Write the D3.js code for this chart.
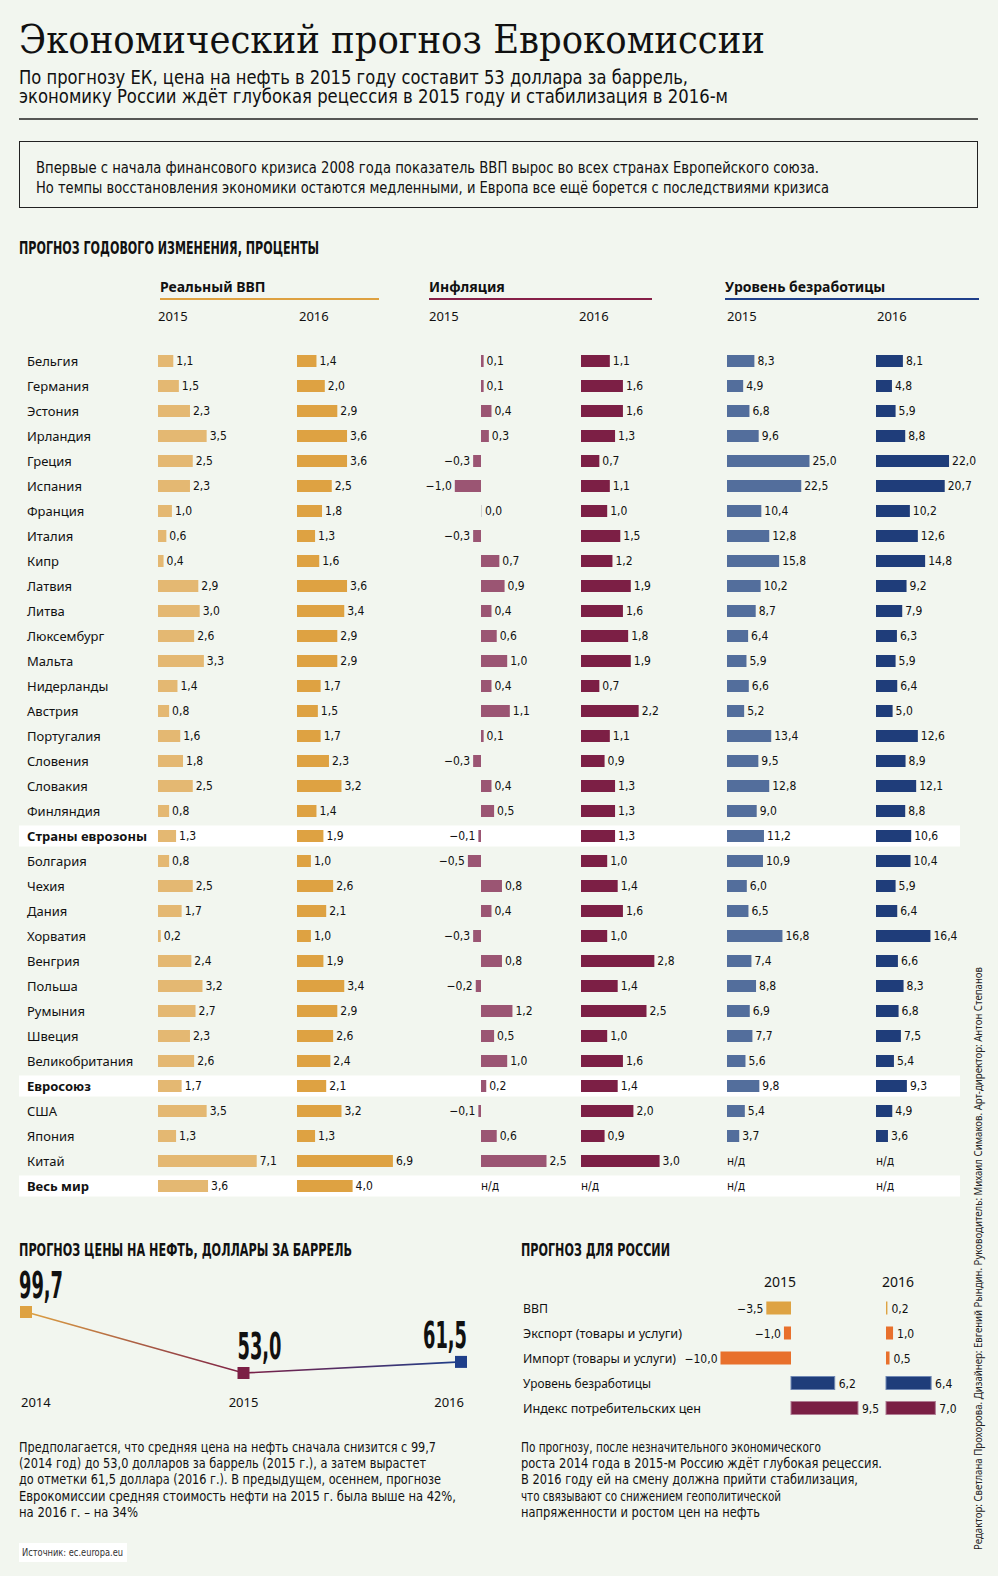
<!DOCTYPE html>
<html><head><meta charset="utf-8">
<script src="https://cdn.jsdelivr.net/npm/d3@7"></script>
<style>html,body{margin:0;padding:0;background:#f2f6ef;} svg{display:block}</style>
</head><body>
<svg id="c" width="998" height="1576"></svg>
<script>
// ---------------- DATA ----------------
const countries = ["Бельгия","Германия","Эстония","Ирландия","Греция","Испания","Франция","Италия","Кипр","Латвия","Литва","Люксембург","Мальта","Нидерланды","Австрия","Португалия","Словения","Словакия","Финляндия","Страны еврозоны","Болгария","Чехия","Дания","Хорватия","Венгрия","Польша","Румыния","Швеция","Великобритания","Евросоюз","США","Япония","Китай","Весь мир"];
const highlighted = ["Страны еврозоны","Евросоюз","Весь мир"];
const gdp2015 = [1.1,1.5,2.3,3.5,2.5,2.3,1.0,0.6,0.4,2.9,3.0,2.6,3.3,1.4,0.8,1.6,1.8,2.5,0.8,1.3,0.8,2.5,1.7,0.2,2.4,3.2,2.7,2.3,2.6,1.7,3.5,1.3,7.1,3.6];
const gdp2016 = [1.4,2.0,2.9,3.6,3.6,2.5,1.8,1.3,1.6,3.6,3.4,2.9,2.9,1.7,1.5,1.7,2.3,3.2,1.4,1.9,1.0,2.6,2.1,1.0,1.9,3.4,2.9,2.6,2.4,2.1,3.2,1.3,6.9,4.0];
const infl2015 = [0.1,0.1,0.4,0.3,-0.3,-1.0,0.0,-0.3,0.7,0.9,0.4,0.6,1.0,0.4,1.1,0.1,-0.3,0.4,0.5,-0.1,-0.5,0.8,0.4,-0.3,0.8,-0.2,1.2,0.5,1.0,0.2,-0.1,0.6,2.5,null];
const infl2016 = [1.1,1.6,1.6,1.3,0.7,1.1,1.0,1.5,1.2,1.9,1.6,1.8,1.9,0.7,2.2,1.1,0.9,1.3,1.3,1.3,1.0,1.4,1.6,1.0,2.8,1.4,2.5,1.0,1.6,1.4,2.0,0.9,3.0,null];
const unemp2015 = [8.3,4.9,6.8,9.6,25.0,22.5,10.4,12.8,15.8,10.2,8.7,6.4,5.9,6.6,5.2,13.4,9.5,12.8,9.0,11.2,10.9,6.0,6.5,16.8,7.4,8.8,6.9,7.7,5.6,9.8,5.4,3.7,null,null];
const unemp2016 = [8.1,4.8,5.9,8.8,22.0,20.7,10.2,12.6,14.8,9.2,7.9,6.3,5.9,6.4,5.0,12.6,8.9,12.1,8.8,10.6,10.4,5.9,6.4,16.4,6.6,8.3,6.8,7.5,5.4,9.3,4.9,3.6,null,null];
const groupTitles = ["Реальный ВВП","Инфляция","Уровень безработицы"];
const yearLabels = ["2015","2016"];

const oilYears = ["2014","2015","2016"];
const oilPrices = [99.7,53.0,61.5];

const russiaIndicators = ["ВВП","Экспорт (товары и услуги)","Импорт (товары и услуги)","Уровень безработицы","Индекс потребительских цен"];
const russia2015 = [-3.5,-1.0,-10.0,6.2,9.5];
const russia2016 = [0.2,1.0,0.5,6.4,7.0];

// ---------------- SETUP ----------------
const W = 998, H = 1576;
const BG = "#f2f6ef";
const SANS = "'Noto Sans','Open Sans',sans-serif";
const NARROW = "'Liberation Sans Narrow','DejaVu Sans Condensed','Roboto',sans-serif";
const SERIF = "'DejaVu Serif','Liberation Serif',serif";
const svg = d3.select("#c");
svg.append("rect").attr("width",W).attr("height",H).attr("fill",BG);

function fmt(v){ return (v<0?"\u2212":"") + Math.abs(v).toFixed(1).replace(".",","); }
function fit(sel, w){
  const n = sel.node(); const L = n.getComputedTextLength();
  if (w && Math.abs(L-w)/w > 0.015) sel.attr("textLength", w).attr("lengthAdjust","spacingAndGlyphs");
  return sel;
}
function txt(x,y,s,o){
  o = o||{};
  const t = svg.append("text").attr("x",x).attr("y",y).text(s)
    .attr("font-family",o.family||SANS).attr("font-size",o.size||13)
    .attr("font-weight",o.weight||"normal").attr("fill",o.fill||"#111")
    .attr("text-anchor",o.anchor||"start");
  if (o.width) fit(t,o.width);
  return t;
}

// ---------------- HEADER ----------------
txt(19,53,"Экономический прогноз Еврокомиссии",{family:SERIF,size:39,width:746,fill:"#111"});
txt(19,84,"По прогнозу ЕК, цена на нефть в 2015 году составит 53 доллара за баррель,",{family:NARROW,size:19,width:669});
txt(19,103,"экономику России ждёт глубокая рецессия в 2015 году и стабилизация в 2016-м",{family:NARROW,size:19,width:709});
svg.append("line").attr("x1",19).attr("x2",978).attr("y1",119).attr("y2",119).attr("stroke","#222").attr("stroke-width",1.3);

svg.append("rect").attr("x",19.5).attr("y",141.5).attr("width",958).attr("height",66)
  .attr("fill","none").attr("stroke","#222").attr("stroke-width",1);
txt(36,173,"Впервые с начала финансового кризиса 2008 года показатель ВВП вырос во всех странах Европейского союза.",{family:NARROW,size:15,width:783});
txt(36,193,"Но темпы восстановления экономики остаются медленными, и Европа все ещё борется с последствиями кризиса",{family:NARROW,size:15,width:793});

txt(19,254,"ПРОГНОЗ ГОДОВОГО ИЗМЕНЕНИЯ, ПРОЦЕНТЫ",{family:NARROW,size:17,weight:"bold",width:300});

// ---------------- TABLE ----------------
const y = d3.scalePoint().domain(countries).range([361, 361 + 25*(countries.length-1)]);

// highlight bands
svg.append("g").selectAll("rect").data(highlighted).join("rect")
  .attr("x",19).attr("width",941).attr("y",d=>y(d)-10.5).attr("height",21).attr("fill","#ffffff");

const groups = [
  {title:groupTitles[0], tx:160, lx1:160, lx2:379, lineColor:"#dea140"},
  {title:groupTitles[1], tx:429, lx1:429, lx2:652, lineColor:"#861f47"},
  {title:groupTitles[2], tx:725, lx1:725, lx2:979, lineColor:"#1f3f8a"}
];
groups.forEach(g=>{
  txt(g.tx,292,g.title,{size:14,weight:"bold"});
  svg.append("line").attr("x1",g.lx1).attr("x2",g.lx2).attr("y1",299).attr("y2",299)
    .attr("stroke",g.lineColor).attr("stroke-width",2);
});

const columns = [
  {values:gdp2015,  zero:158, k:13.9, color:"#e4b872", year:yearLabels[0], yx:158},
  {values:gdp2016,  zero:297, k:13.9, color:"#dea242", year:yearLabels[1], yx:299},
  {values:infl2015, zero:481, k:26.2, color:"#9b5573", year:yearLabels[0], yx:429},
  {values:infl2016, zero:581, k:26.2, color:"#7c1f45", year:yearLabels[1], yx:579},
  {values:unemp2015,zero:727, k:3.3,  color:"#536e9c", year:yearLabels[0], yx:727},
  {values:unemp2016,zero:876, k:3.32, color:"#1f3d7a", year:yearLabels[1], yx:877}
];

columns.forEach(col=>{
  txt(col.yx,321,col.year,{size:13});
  const x = d3.scaleLinear().domain([0,1]).range([col.zero, col.zero+col.k]);
  const data = countries.map((c,i)=>({c, v:col.values[i]}));
  const g = svg.append("g");
  const valid = data.filter(d=>d.v!==null);
  g.selectAll("rect").data(valid).join("rect")
    .attr("x",d=>Math.min(x(0),x(d.v)))
    .attr("width",d=>Math.max(Math.abs(x(d.v)-x(0)), 1))
    .attr("y",d=>y(d.c)-6).attr("height",12)
    .attr("fill",d=>d.v===0?"#cfcfcf":col.color);
  g.selectAll("text").data(data).join("text")
    .attr("x",d=> d.v===null ? x(0) : (d.v<0 ? x(d.v)-3 : Math.max(x(d.v),x(0)+1)+3))
    .attr("y",d=>y(d.c)+4)
    .attr("text-anchor",d=> d.v!==null && d.v<0 ? "end":"start")
    .attr("font-family",NARROW).attr("font-size",12).attr("fill","#111")
    .text(d=> d.v===null ? "н/д" : fmt(d.v));
});

// row labels
svg.append("g").selectAll("text").data(countries).join("text")
  .attr("x",27).attr("y",d=>y(d)+4.5)
  .attr("font-family",SANS).attr("font-size",13)
  .attr("font-weight",d=>highlighted.includes(d)?"bold":"normal")
  .attr("fill","#111").text(d=>d);

// ---------------- OIL CHART ----------------
txt(19,1256,"ПРОГНОЗ ЦЕНЫ НА НЕФТЬ, ДОЛЛАРЫ ЗА БАРРЕЛЬ",{family:NARROW,size:17,weight:"bold",width:333});
const ox = d3.scalePoint().domain(oilYears).range([26,461]);
const oy = d3.scaleLinear().domain([53,99.7]).range([1373,1312]);
const oilColors = ["#dea242","#7c1f45","#1f3f8a"];
const defs = svg.append("defs");
const grad = defs.append("linearGradient").attr("id","oilgrad").attr("gradientUnits","userSpaceOnUse")
  .attr("x1",ox(oilYears[0])).attr("x2",ox(oilYears[2])).attr("y1",0).attr("y2",0);
grad.append("stop").attr("offset",0).attr("stop-color",oilColors[0]);
grad.append("stop").attr("offset",(ox(oilYears[1])-ox(oilYears[0]))/(ox(oilYears[2])-ox(oilYears[0]))).attr("stop-color",oilColors[1]);
grad.append("stop").attr("offset",1).attr("stop-color",oilColors[2]);
const oilData = oilYears.map((yr,i)=>({yr, v:oilPrices[i]}));
svg.append("path").datum(oilData)
  .attr("d", d3.line().x(d=>ox(d.yr)).y(d=>oy(d.v)))
  .attr("fill","none").attr("stroke","url(#oilgrad)").attr("stroke-width",1.6);
svg.append("g").selectAll("rect").data(oilData).join("rect")
  .attr("x",d=>ox(d.yr)-6).attr("y",d=>oy(d.v)-6).attr("width",12).attr("height",12)
  .attr("fill",(d,i)=>oilColors[i]);
const anchors = ["start","start","end"];
const offs = [-7,-6,6];
oilData.forEach((d,i)=>{
  txt(ox(d.yr)+offs[i], oy(d.v)-14, fmt(d.v), {family:NARROW,size:37,weight:"bold",anchor:anchors[i],width:44});
});
const yrAnch = ["start","middle","end"];
const yrOff = [-5,0,3];
oilData.forEach((d,i)=>{
  txt(ox(d.yr)+yrOff[i], 1407, d.yr, {size:13,anchor:yrAnch[i]});
});

// ---------------- RUSSIA ----------------
txt(521,1256,"ПРОГНОЗ ДЛЯ РОССИИ",{family:NARROW,size:17,weight:"bold",width:149});
const ry = d3.scalePoint().domain(russiaIndicators).range([1308,1408]);
const rx15 = d3.scaleLinear().domain([0,1]).range([791,798.05]);
const rx16 = d3.scaleLinear().domain([0,1]).range([886,893.05]);
const rColors = ["#dea343","#e8702c","#e8702c","#1f3d7a","#7a1f44"];
const rStroke = [null,null,null,"#7088b4","#b07d93"];
txt(780,1287,yearLabels[0],{size:14,anchor:"middle"});
txt(898,1287,yearLabels[1],{size:14,anchor:"middle"});
const rLabelW = [25,159,153,128,178];
svg.append("g").selectAll("text").data(russiaIndicators).join("text")
  .attr("x",523).attr("y",d=>ry(d)+5).attr("font-family",SANS).attr("font-size",13)
  .attr("fill","#111").text(d=>d)
  .each(function(d,i){ fit(d3.select(this), rLabelW[i]); });
[[russia2015,rx15],[russia2016,rx16]].forEach(([vals,x])=>{
  const data = russiaIndicators.map((c,i)=>({c,v:vals[i],i}));
  const g = svg.append("g");
  g.selectAll("rect").data(data).join("rect")
    .attr("x",d=>Math.min(x(0),x(d.v))).attr("width",d=>Math.abs(x(d.v)-x(0)))
    .attr("y",d=>ry(d.c)-6.5).attr("height",13)
    .attr("fill",d=>rColors[d.i])
    .attr("stroke",d=>rStroke[d.i]||"none").attr("stroke-width",1);
  g.selectAll("text").data(data).join("text")
    .attr("x",d=> d.v<0 ? x(d.v)-3 : x(d.v)+4)
    .attr("y",d=>ry(d.c)+4.5)
    .attr("text-anchor",d=>d.v<0?"end":"start")
    .attr("font-family",NARROW).attr("font-size",12).attr("fill","#111")
    .text(d=>fmt(d.v));
});

// ---------------- PARAGRAPHS ----------------
const leftPara = [
  "Предполагается, что средняя цена на нефть сначала снизится с 99,7",
  "(2014 год) до 53,0 долларов за баррель (2015 г.), а затем вырастет",
  "до отметки 61,5 доллара (2016 г.). В предыдущем, осеннем, прогнозе",
  "Еврокомиссии средняя стоимость нефти на 2015 г. была выше на 42%,",
  "на 2016 г. – на 34%"
];
const rightPara = [
  "По прогнозу, после незначительного экономического",
  "роста 2014 года в 2015-м Россию ждёт глубокая рецессия.",
  "В 2016 году ей на смену должна прийти стабилизация,",
  "что связывают со снижением геополитической",
  "напряженности и ростом цен на нефть"
];
const leftW = [417,407,422,437,119];
const rightW = [300,361,337,260,239];
leftPara.forEach((s,i)=>txt(19,1452+i*16.2,s,{family:NARROW,size:14,width:leftW[i]}));
rightPara.forEach((s,i)=>txt(521,1452+i*16.2,s,{family:NARROW,size:14,width:rightW[i]}));

// source
svg.append("rect").attr("x",19).attr("y",1543).attr("width",108).attr("height",19).attr("fill","#ffffff");
txt(22,1556,"Источник: ec.europa.eu",{family:NARROW,size:10.5,fill:"#333",width:101});

// credits (vertical)
svg.append("text").attr("transform","translate(982,1550) rotate(-90)")
  .attr("font-family",SANS).attr("font-size",10).attr("fill","#222")
  .text("Редактор: Светлана Прохорова. Дизайнер: Евгений Рындин. Руководитель: Михаил Симаков. Арт-директор: Антон Степанов")
  .call(s=>fit(s,583));
</script>
</body></html>
